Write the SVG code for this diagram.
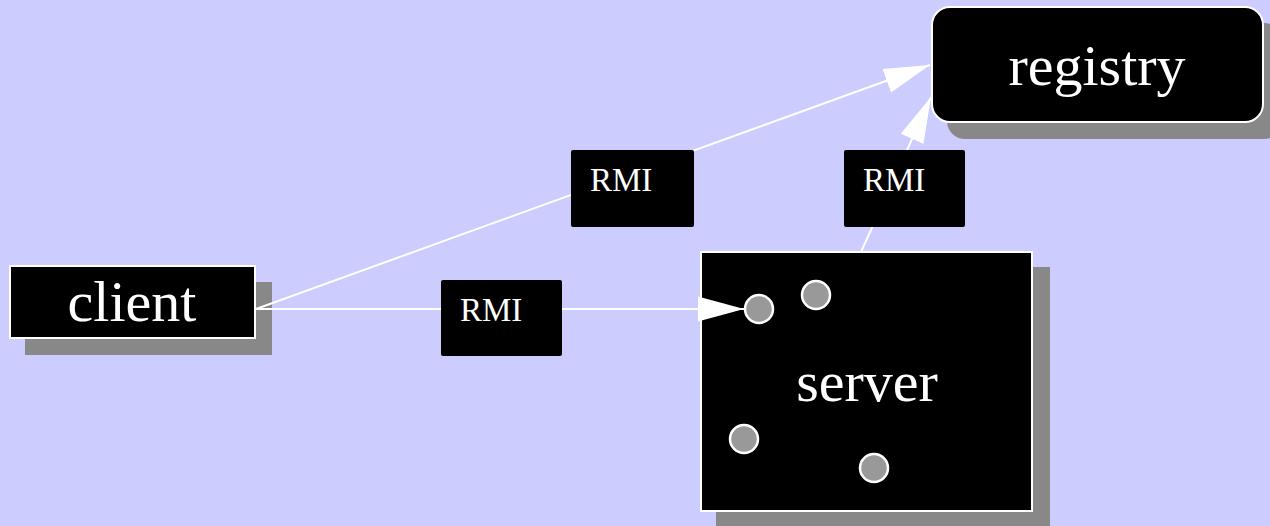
<svg xmlns="http://www.w3.org/2000/svg" width="1270" height="526" viewBox="0 0 1270 526">
  <style>
    .shadow { fill: #888888; }
    .box { fill: #000000; stroke: #ffffff; stroke-width: 2; }
    .name { font-family: "Liberation Serif", "Times New Roman", serif; font-size: 58px; fill: #ffffff; text-anchor: middle; }
    .label rect { fill: #000000; }
    .label text { font-family: "Liberation Serif", "Times New Roman", serif; font-size: 33px; fill: #ffffff; }
    .edge { stroke: #ffffff; stroke-width: 2; fill: none; }
    .port { fill: #999999; stroke: #ffffff; stroke-width: 2.5; }
  </style>
  <defs>
    <marker id="arrow" markerUnits="userSpaceOnUse" markerWidth="48" markerHeight="28" refX="46" refY="13" orient="auto">
      <path d="M0,0.5 L46,13 L0,25.5 Z" fill="#ffffff"/>
    </marker>
  </defs>

  <rect width="1270" height="526" fill="#ccccff"/>

  <!-- client -->
  <g id="client">
    <rect class="shadow" x="25" y="282" width="247" height="73"/>
    <rect class="box" x="10" y="266" width="245" height="72"/>
    <text class="name" x="132" y="321">client</text>
  </g>

  <!-- server -->
  <g id="server">
    <rect class="shadow" x="716" y="267" width="334" height="265"/>
    <rect class="box" x="701" y="252" width="331" height="259"/>
    <text class="name" x="867" y="401">server</text>
    <circle class="port" cx="759" cy="309" r="14"/>
    <circle class="port" cx="816" cy="295" r="14"/>
    <circle class="port" cx="744" cy="439" r="14"/>
    <circle class="port" cx="874" cy="468" r="14"/>
  </g>

  <!-- registry -->
  <g id="registry">
    <rect class="shadow" x="947" y="23" width="335" height="116" rx="18"/>
    <rect class="box" x="932" y="7" width="331" height="115" rx="18"/>
    <text class="name" x="1097" y="85">registry</text>
  </g>

  <!-- connectors, drawn over the nodes so arrowheads stay visible -->
  <g id="connectors">
    <line class="edge" x1="256" y1="309" x2="930" y2="65" marker-end="url(#arrow)"/>
    <line class="edge" x1="256" y1="309" x2="744" y2="309" marker-end="url(#arrow)"/>
    <line class="edge" x1="861" y1="252" x2="931" y2="97" marker-end="url(#arrow)"/>
  </g>

  <!-- edge labels -->
  <g id="label-client-registry" class="label">
    <rect x="571" y="150" width="123" height="77" rx="2"/>
    <text x="590" y="191">RMI</text>
  </g>
  <g id="label-client-server" class="label">
    <rect x="441" y="280" width="121" height="76" rx="2"/>
    <text x="460" y="321">RMI</text>
  </g>
  <g id="label-server-registry" class="label">
    <rect x="844" y="150" width="121" height="77" rx="2"/>
    <text x="863" y="191">RMI</text>
  </g>
</svg>
